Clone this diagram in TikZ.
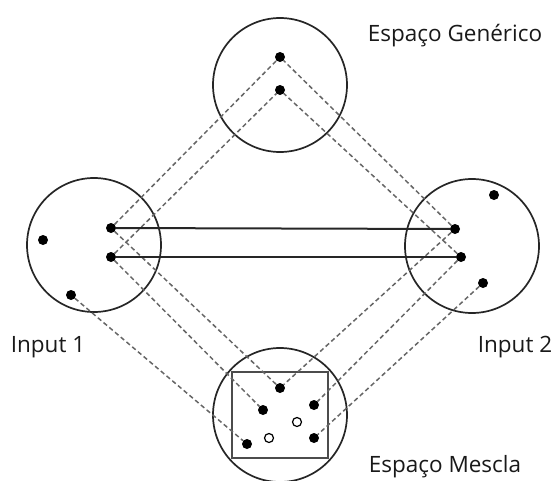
\documentclass[tikz,border=0pt]{standalone}
\usepackage{fontspec}
\setmainfont{Open Sans}
\usetikzlibrary{positioning}

\begin{document}
\begin{tikzpicture}[x=1pt, y=-1pt]
        \tikzstyle{space} = [circle, draw=black!85, line width=1.7pt, minimum size=134pt, inner sep=0pt]
        \tikzstyle{dot} = [circle, fill=black, inner sep=0pt, minimum size=10pt]
        \tikzstyle{hollow} = [circle, draw=black, fill=white, line width=1.2pt, inner sep=0pt, minimum size=9pt]
        \tikzstyle{spacename} = [font=\fontsize{22.5}{24}\selectfont, text=black!90]
        \tikzstyle{map} = [draw=black!60, dash pattern=on 4.5pt off 3pt, line width=1.5pt]
        \tikzstyle{link} = [draw=black!85, line width=2pt]

        \useasboundingbox (0,0) rectangle (552,480);

        % the four spaces
        \node [space] (generic) at (280,85) {};
        \node [space] (input1) at (94,245) {};
        \node [space] (input2) at (472,246) {};
        \node [space] (blend) at (280,415) {};
        \node [draw=black!70, line width=1.3pt, minimum width=96pt, minimum height=86pt] (frame) at (280,415) {};

        % elements
        \node [dot] (g1) at (280,57) {};
        \node [dot] (g2) at (280,90) {};
        \node [dot] (l0) at (43,240) {};
        \node [dot] (l1) at (111,228) {};
        \node [dot] (l2) at (111,257) {};
        \node [dot] (l3) at (71,295) {};
        \node [dot] (r0) at (494,195) {};
        \node [dot] (r1) at (455,229) {};
        \node [dot] (r2) at (461,257) {};
        \node [dot] (r3) at (483,283) {};
        \node [dot] (m1) at (280,388) {};
        \node [dot] (m2) at (263,410) {};
        \node [dot] (m3) at (247,444) {};
        \node [dot] (m4) at (314,405) {};
        \node [dot] (m5) at (314,438) {};
        \node [hollow] (h1) at (297,422) {};
        \node [hollow] (h2) at (269,438) {};

        % mappings
        \path [map] (l1) -- (g1);
        \path [map] (l2) -- (g2);
        \path [map] (r1) -- (g1);
        \path [map] (r2) -- (g2);
        \path [map] (l1) -- (m1);
        \path [map] (l2) -- (m2);
        \path [map] (l3) -- (m3);
        \path [map] (r1) -- (m1);
        \path [map] (r2) -- (m4);
        \path [map] (r3) -- (m5);
        \path [link] (l1) -- (r1);
        \path [link] (l2) -- (r2);

        % names
        \node [spacename] (genericname) at (455,36) {Espaço Genérico};
        \node [spacename] (input1name) at (48,347) {Input 1};
        \node [spacename] (input2name) at (515,347) {Input 2};
        \node [spacename] (blendname) at (445,467) {Espaço Mescla};
    \end{tikzpicture}
\end{document}
